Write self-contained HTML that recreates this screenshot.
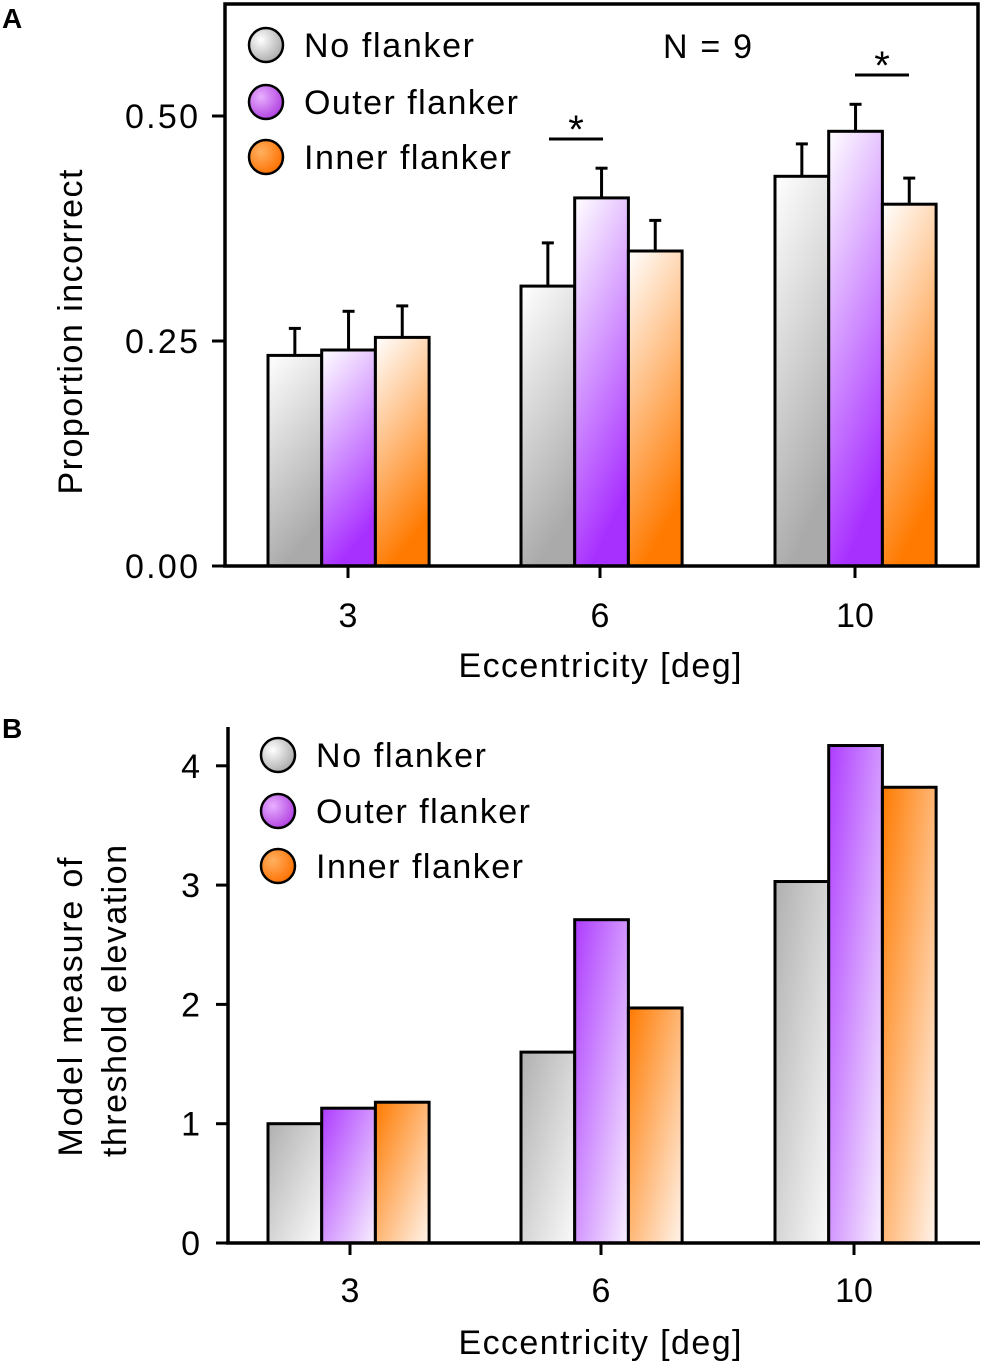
<!DOCTYPE html>
<html><head><meta charset="utf-8"><style>
body{margin:0;background:#fff}
svg text{font-family:"Liberation Sans",sans-serif;fill:#000}
</style></head><body>
<svg id="s" width="986" height="1367" xmlns="http://www.w3.org/2000/svg">
<defs>
<linearGradient id="gA0" x1="0" y1="0" x2="0.3" y2="1"><stop offset="0" stop-color="#fff"/><stop offset="1" stop-color="#aaa"/></linearGradient>
<linearGradient id="gA1" x1="0" y1="0" x2="0.3" y2="1"><stop offset="0" stop-color="#fff"/><stop offset="1" stop-color="#a830ff"/></linearGradient>
<linearGradient id="gA2" x1="0" y1="0" x2="0.3" y2="1"><stop offset="0" stop-color="#fff"/><stop offset="1" stop-color="#ff7a00"/></linearGradient>
<linearGradient id="gB0" x1="0" y1="0" x2="1" y2="1"><stop offset="0" stop-color="#b0b0b0"/><stop offset="1" stop-color="#fafafa"/></linearGradient>
<linearGradient id="gB1" x1="0" y1="0" x2="1" y2="1"><stop offset="0" stop-color="#ad3cff"/><stop offset="1" stop-color="#f8f0ff"/></linearGradient>
<linearGradient id="gB2" x1="0" y1="0" x2="1" y2="1"><stop offset="0" stop-color="#ff7a00"/><stop offset="1" stop-color="#fff4ec"/></linearGradient>
<radialGradient id="gL0" cx="0.35" cy="0.35" r="0.7"><stop offset="0" stop-color="#fff"/><stop offset="1" stop-color="#aaa"/></radialGradient>
<radialGradient id="gL1" cx="0.35" cy="0.35" r="0.7"><stop offset="0" stop-color="#e8b0ff"/><stop offset="1" stop-color="#b040e0"/></radialGradient>
<radialGradient id="gL2" cx="0.35" cy="0.35" r="0.7"><stop offset="0" stop-color="#ffb060"/><stop offset="1" stop-color="#ff7000"/></radialGradient>
</defs>
<g id="A"></g><g id="B"></g>
</svg>
<script>
const categories=["3","6","10"];
const seriesNames=["No flanker","Outer flanker","Inner flanker"];
const valuesA=[[0.234,0.311,0.433],[0.240,0.409,0.483],[0.254,0.350,0.402]];
const errA=[[0.030,0.048,0.036],[0.043,0.033,0.030],[0.035,0.034,0.029]];
const valuesB=[[1.0,1.6,3.03],[1.13,2.71,4.17],[1.18,1.97,3.82]];
const ticksA=[0,0.25,0.5];const tickLabelsA=["0.00","0.25","0.50"];
const ticksB=[0,1,2,3,4];
const NS="http://www.w3.org/2000/svg";
function mk(p,t,a,txt){const e=document.createElementNS(NS,t);for(const k in a)e.setAttribute(k,a[k]);if(txt!==undefined)e.textContent=txt;p.appendChild(e);return e;}
const groupX=[268,521,775],bw=53.7;
const legW=[170,214,207];
// Panel A
const A=document.getElementById('A');
const yA=v=>566-v*900;
mk(A,'text',{x:2,y:28,'font-size':28,'font-weight':'bold'},'A');
for(let s=0;s<3;s++)for(let c=0;c<3;c++){
 const x=groupX[c]+s*bw,v=valuesA[s][c],e=errA[s][c];
 const ln=mk(A,'line',{x1:x+bw/2,x2:x+bw/2,y1:yA(v),y2:yA(v+e),stroke:'#000','stroke-width':3});
 
 const cap=mk(A,'line',{x1:x+bw/2-6,x2:x+bw/2+6,y1:yA(v+e),y2:yA(v+e),stroke:'#000','stroke-width':3});
 
 const r=mk(A,'rect',{x:x,y:yA(v),width:bw,height:yA(0)-yA(v),fill:`url(#gA${s})`,stroke:'#000','stroke-width':3});
 
}
const fr=mk(A,'rect',{x:225,y:4,width:753,height:562,fill:'none',stroke:'#000','stroke-width':3.5});

ticksA.forEach((t,i)=>{
 const l=mk(A,'line',{x1:212,x2:225,y1:yA(t),y2:yA(t),stroke:'#000','stroke-width':3});
 
 const tx=mk(A,'text',{x:198,y:yA(t)+12,'font-size':34,'text-anchor':'end',textLength:73},tickLabelsA[i]);
 
});
[348,600,855].forEach((x,i)=>{
 const l=mk(A,'line',{x1:x,x2:x,y1:566,y2:578,stroke:'#000','stroke-width':3});
 
 const tx=mk(A,'text',{x:x,y:627,'font-size':34,'text-anchor':'middle'},categories[i]);
 
});
let t=mk(A,'text',{x:600,y:677,'font-size':34,'text-anchor':'middle',textLength:283},'Eccentricity [deg]');
t=mk(A,'text',{x:0,y:0,'font-size':34,'text-anchor':'middle',textLength:325,transform:'translate(82,332) rotate(-90)'},'Proportion incorrect');
t=mk(A,'text',{x:663,y:58,'font-size':34,textLength:89},'N = 9');
[[549,603,139],[855,909,75]].forEach(([a,b,y])=>{
 const l=mk(A,'line',{x1:a,x2:b,y1:y,y2:y,stroke:'#000','stroke-width':3});
 const s=mk(A,'text',{x:(a+b)/2,y:y+4,'font-size':40,'text-anchor':'middle'},'*');
});
[45,102,157].forEach((y,i)=>{
 const c=mk(A,'circle',{cx:266,cy:y,r:17,fill:`url(#gL${i})`,stroke:'#000','stroke-width':2.5});
 const tx=mk(A,'text',{x:304,y:y+12,'font-size':34,textLength:legW[i]},seriesNames[i]);
});
// Panel B
const B=document.getElementById('B');
const yB=v=>1243-v*119.3;
mk(B,'text',{x:2,y:738,'font-size':28,'font-weight':'bold'},'B');
for(let s=0;s<3;s++)for(let c=0;c<3;c++){
 const x=groupX[c]+s*bw,v=valuesB[s][c];
 const r=mk(B,'rect',{x:x,y:yB(v),width:bw,height:yB(0)-yB(v),fill:`url(#gB${s})`,stroke:'#000','stroke-width':3});
 
}
let ax=mk(B,'line',{x1:228,x2:228,y1:727,y2:1243,stroke:'#000','stroke-width':3.5});
ax=mk(B,'line',{x1:226,x2:980,y1:1243,y2:1243,stroke:'#000','stroke-width':3.5});
ticksB.forEach(v=>{
 const l=mk(B,'line',{x1:216,x2:228,y1:yB(v),y2:yB(v),stroke:'#000','stroke-width':3});
 const tx=mk(B,'text',{x:200,y:yB(v)+12,'font-size':34,'text-anchor':'end'},String(v));
});
[350,601,854].forEach((x,i)=>{
 const l=mk(B,'line',{x1:x,x2:x,y1:1243,y2:1255,stroke:'#000','stroke-width':3});
 const tx=mk(B,'text',{x:x,y:1302,'font-size':34,'text-anchor':'middle'},categories[i]);
});
t=mk(B,'text',{x:600,y:1354,'font-size':34,'text-anchor':'middle',textLength:283},'Eccentricity [deg]');
t=mk(B,'text',{x:0,y:0,'font-size':34,'text-anchor':'middle',textLength:299,transform:'translate(82,1007) rotate(-90)'},'Model measure of');
t=mk(B,'text',{x:0,y:0,'font-size':34,'text-anchor':'middle',textLength:312,transform:'translate(126,1001) rotate(-90)'},'threshold elevation');
[755,811,866].forEach((y,i)=>{
 const c=mk(B,'circle',{cx:278,cy:y,r:17,fill:`url(#gL${i})`,stroke:'#000','stroke-width':2.5});
 const tx=mk(B,'text',{x:316,y:y+12,'font-size':34,textLength:legW[i]},seriesNames[i]);
});
</script>
</body></html>
